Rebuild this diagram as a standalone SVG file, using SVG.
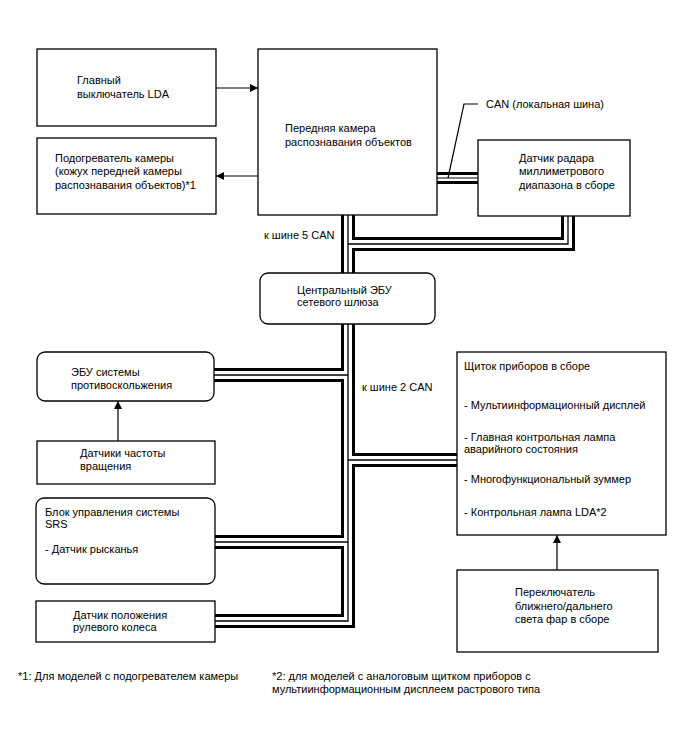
<svg xmlns="http://www.w3.org/2000/svg" width="688" height="755" viewBox="0 0 688 755">
<defs>
<marker id="arr" viewBox="0 0 10 10" refX="10" refY="5" markerWidth="8" markerHeight="8" markerUnits="userSpaceOnUse" orient="auto">
<path d="M0,0 L10,5 L0,10 z" fill="#000"/>
</marker>
<style>
.box{fill:#fff;stroke:#000;stroke-width:1.3}
.t{font-family:"Liberation Sans",Arial,sans-serif;font-size:11px;fill:#000}
.wire{fill:none;stroke:#000;stroke-width:1.2}
.b1{fill:none;stroke:#000;stroke-width:14;stroke-linejoin:miter}
.b2{fill:none;stroke:#fff;stroke-width:8;stroke-linejoin:miter}
.b3{fill:none;stroke:#000;stroke-width:1.3;stroke-linejoin:miter}
.l1{fill:none;stroke:#000;stroke-width:12}
.l2{fill:none;stroke:#fff;stroke-width:6}
.l3{fill:none;stroke:#000;stroke-width:1.2}
</style>
</defs>
<rect width="688" height="755" fill="#fff"/>
<g id="connectors">
<g class="b1">
<path d="M348,215 V621 H215"/>
<path d="M568,216 V244 H348"/>
<path d="M214,375 H348"/>
<path d="M215,542 H348"/>
<path d="M348,460 H457"/>
</g>
<g class="b2">
<path d="M348,215 V621 H215"/>
<path d="M568,216 V244 H348"/>
<path d="M214,375 H348"/>
<path d="M215,542 H348"/>
<path d="M348,460 H457"/>
</g>
<g class="b3">
<path d="M348,215 V621 H215"/>
<path d="M568,216 V244 H348"/>
<path d="M214,375 H348"/>
<path d="M215,542 H348"/>
<path d="M348,460 H457"/>
</g>
<path class="l1" d="M437,178 H478"/>
<path class="l2" d="M437,178 H478"/>
<path class="l3" d="M437,178 H478"/>
<path class="wire" d="M448,178 L464,104 H478"/>
<path class="wire" d="M216,88 H258" marker-end="url(#arr)"/>
<path class="wire" d="M258,176 H216" marker-end="url(#arr)"/>
<path class="wire" d="M118,441 V401" marker-end="url(#arr)"/>
<path class="wire" d="M557,570 V535" marker-end="url(#arr)"/>
</g>
<g id="lda-switch">
<rect class="box" x="37" y="49" width="179" height="77"/>
<text class="t" x="77" y="84">Главный</text>
<text class="t" x="77" y="98">выключатель LDA</text>
</g>
<g id="camera-heater">
<rect class="box" x="37" y="138" width="179" height="76"/>
<text class="t" x="55" y="162">Подогреватель камеры</text>
<text class="t" x="55" y="175">(кожух передней камеры</text>
<text class="t" x="55" y="189">распознавания объектов)*1</text>
</g>
<g id="front-camera">
<rect class="box" x="258" y="49" width="179" height="166"/>
<text class="t" x="285" y="132">Передняя камера</text>
<text class="t" x="285" y="146">распознавания объектов</text>
</g>
<g id="radar">
<rect class="box" x="478" y="140" width="152" height="76"/>
<text class="t" x="519" y="162">Датчик радара</text>
<text class="t" x="519" y="175">миллиметрового</text>
<text class="t" x="519" y="189">диапазона в сборе</text>
</g>
<g id="labels">
<text class="t" x="486" y="108">CAN (локальная шина)</text>
<text class="t" x="264" y="239">к шине 5 CAN</text>
<text class="t" x="362" y="391">к шине 2 CAN</text>
</g>
<g id="gateway">
<rect class="box" x="260" y="273" width="175" height="51" rx="8"/>
<text class="t" x="297" y="294">Центральный ЭБУ</text>
<text class="t" x="297" y="306">сетевого шлюза</text>
</g>
<g id="abs-ecu">
<rect class="box" x="37" y="352" width="177" height="49" rx="8"/>
<text class="t" x="71" y="376">ЭБУ системы</text>
<text class="t" x="71" y="389">противоскольжения</text>
</g>
<g id="speed-sensors">
<rect class="box" x="37" y="441" width="178" height="43"/>
<text class="t" x="80" y="457">Датчики частоты</text>
<text class="t" x="80" y="470">вращения</text>
</g>
<g id="srs">
<rect class="box" x="36" y="498" width="179" height="86" rx="8"/>
<text class="t" x="45" y="516">Блок управления системы</text>
<text class="t" x="45" y="528">SRS</text>
<text class="t" x="45" y="553">- Датчик рысканья</text>
</g>
<g id="steering-sensor">
<rect class="box" x="36" y="601" width="179" height="41"/>
<text class="t" x="73" y="619">Датчик положения</text>
<text class="t" x="73" y="631">рулевого колеса</text>
</g>
<g id="cluster">
<rect class="box" x="457" y="352" width="209" height="183"/>
<text class="t" x="464" y="370">Щиток приборов в сборе</text>
<text class="t" x="464" y="409">- Мультиинформационный дисплей</text>
<text class="t" x="464" y="441">- Главная контрольная лампа</text>
<text class="t" x="464" y="453">аварийного состояния</text>
<text class="t" x="464" y="483">- Многофункциональный зуммер</text>
<text class="t" x="464" y="516">- Контрольная лампа LDA*2</text>
</g>
<g id="headlight-switch">
<rect class="box" x="457" y="570" width="201" height="82"/>
<text class="t" x="515" y="596">Переключатель</text>
<text class="t" x="515" y="610">ближнего/дальнего</text>
<text class="t" x="515" y="623">света фар в сборе</text>
</g>
<g id="footnotes">
<text class="t" x="18" y="680">*1: Для моделей с подогревателем камеры</text>
<text class="t" x="272" y="680">*2: для моделей с аналоговым щитком приборов с</text>
<text class="t" x="272" y="693">мультиинформационным дисплеем растрового типа</text>
</g>
</svg>
